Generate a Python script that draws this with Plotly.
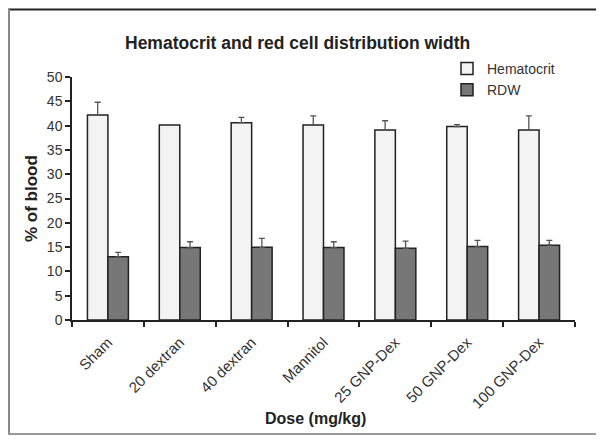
import plotly.graph_objects as go

categories = ["Sham", "20 dextran", "40 dextran", "Mannitol", "25 GNP-Dex", "50 GNP-Dex", "100 GNP-Dex"]
hematocrit = [42.2, 40.1, 40.6, 40.1, 39.1, 39.8, 39.1]
hematocrit_err = [2.6, 0.1, 1.1, 1.9, 1.9, 0.4, 2.9]
rdw = [13.0, 14.9, 14.95, 14.9, 14.75, 15.1, 15.4]
rdw_err = [0.9, 1.2, 1.85, 1.2, 1.5, 1.3, 1.0]
y_ticks = [0, 5, 10, 15, 20, 25, 30, 35, 40, 45, 50]

FONT = "Arial, Liberation Sans, sans-serif"

L, R, T, B = 72, 29, 77, 124
W, H = 604, 444
pw, ph = W - L - R, H - T - B

def px(x):
    return (x - L) / pw

def py(y):
    return (H - B - y) / ph

fig = go.Figure()
fig.add_trace(go.Bar(
    x=categories, y=hematocrit, name="Hematocrit",
    marker=dict(color="#f3f3f3", line=dict(color="#222222", width=1.5)),
    error_y=dict(type="data", array=hematocrit_err, arrayminus=[0] * len(categories),
                 symmetric=False, color="#555555", thickness=1.3, width=3),
))
fig.add_trace(go.Bar(
    x=categories, y=rdw, name="RDW",
    marker=dict(color="#777777", line=dict(color="#222222", width=1.5)),
    error_y=dict(type="data", array=rdw_err, arrayminus=[0] * len(categories),
                 symmetric=False, color="#555555", thickness=1.3, width=3),
))

shapes = [
    dict(type="line", xref="paper", yref="paper", x0=px(8), x1=px(596), y0=py(9.5), y1=py(9.5),
         line=dict(color="#222222", width=2)),
    dict(type="line", xref="paper", yref="paper", x0=px(9), x1=px(9), y0=py(9), y1=py(434),
         line=dict(color="#888888", width=2)),
    dict(type="line", xref="paper", yref="paper", x0=px(8), x1=px(596), y0=py(434), y1=py(434),
         line=dict(color="#999999", width=2)),
]

annotations = [
    dict(text="<b>Hematocrit and red cell distribution width</b>", xref="paper", yref="paper",
         x=px(297), y=py(43), xanchor="center", yanchor="middle", showarrow=False,
         font=dict(family=FONT, size=17.5, color="#222222")),
    dict(text="<b>% of blood</b>", xref="paper", yref="paper", textangle=-90,
         x=px(31), y=py(199), xanchor="center", yanchor="middle", showarrow=False,
         font=dict(family=FONT, size=17, color="#222222")),
    dict(text="<b>Dose (mg/kg)</b>", xref="paper", yref="paper",
         x=px(315), y=py(418), xanchor="center", yanchor="middle", showarrow=False,
         font=dict(family=FONT, size=16, color="#222222")),
]

fig.update_layout(
    width=W, height=H,
    margin=dict(l=L, r=R, t=T, b=B, autoexpand=False),
    paper_bgcolor="white", plot_bgcolor="white",
    barmode="group", bargap=0.43, bargroupgap=0.0,
    font=dict(family=FONT, size=13, color="#333333"),
    showlegend=True,
    legend=dict(x=px(447), y=py(53), xanchor="left", yanchor="top",
                font=dict(family=FONT, size=14, color="#333333"),
                bgcolor="rgba(0,0,0,0)", tracegroupgap=3, itemwidth=30),
    shapes=shapes, annotations=annotations,
)
fig.update_xaxes(
    type="category", tickangle=-45, showline=True, linecolor="#222222", linewidth=1.5,
    ticks="outside", tickson="boundaries", ticklen=5, tickcolor="#222222", tickwidth=1.5,
    showgrid=False, tickfont=dict(family=FONT, size=15, color="#333333"),
    ticklabelstandoff=6,
)
fig.update_yaxes(
    range=[0, 50], tickvals=y_ticks, showline=True, linecolor="#222222", linewidth=1.5,
    ticks="outside", ticklen=5, tickcolor="#222222", tickwidth=1.5, showgrid=False,
    zeroline=False, tickfont=dict(family=FONT, size=14, color="#333333"),
)

fig.write_html("out.html", config={"displayModeBar": False},
               post_script="document.body.style.margin='0';")
